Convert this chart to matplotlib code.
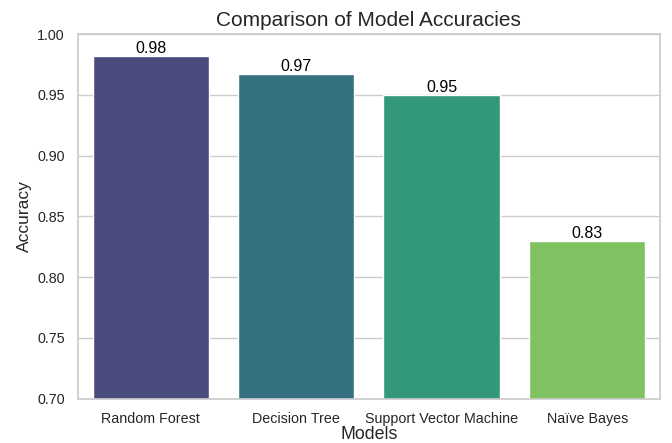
import matplotlib
matplotlib.use("Agg")
import matplotlib.pyplot as plt
import seaborn as sns

models = ["Random Forest", "Decision Tree", "Support Vector Machine", "Naïve Bayes"]
accuracy = [0.982, 0.967, 0.950, 0.830]

sns.set_theme(style="whitegrid")
plt.rcParams['font.family'] = ['Liberation Sans', 'DejaVu Sans']

fig = plt.figure(figsize=(6.72, 4.43), dpi=100)
ax = fig.add_axes([0.116, 0.1, 0.866, 0.823])

sns.barplot(x=models, y=accuracy, hue=models, palette="viridis", legend=False, ax=ax)

# подписи над столбцами
for i, v in enumerate(accuracy):
    ax.text(i, v, f"{v:.2f}", ha="center", va="bottom", fontsize=11.5, color="black")

ax.set_ylim(0.70, 1.00)
ax.set_title("Comparison of Model Accuracies", fontsize=15, pad=6)
ax.set_xlabel("Models", fontsize=12.8, labelpad=0)
ax.set_ylabel("Accuracy", fontsize=12.5)
ax.tick_params(labelsize=10.3)

fig.savefig("out.png", dpi=100)
